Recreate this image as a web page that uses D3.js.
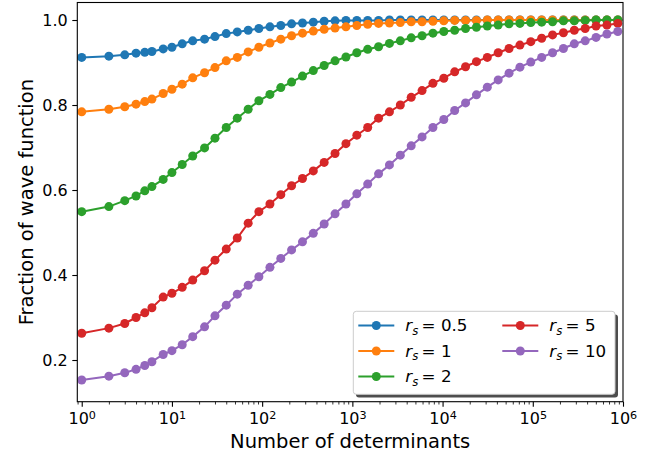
<!DOCTYPE html>
<html>
<head>
<meta charset="utf-8">
<script src="https://cdn.jsdelivr.net/npm/d3@7"></script>
<style>
  body { margin: 0; background: #fff; }
  text { font-family: "DejaVu Sans", sans-serif; }
</style>
</head>
<body>
<svg width="660" height="460"></svg>
<script>
// number of determinants (x positions of the markers)
const nDet = [1, 2, 3, 4, 5, 6, 8, 10, 13, 17, 23, 30, 40, 53, 70, 92, 122, 161, 212, 280,
  369, 487, 643, 849, 1121, 1479, 1952, 2577, 3401, 4490, 5925, 7820, 10322, 13624, 17982,
  23734, 31326, 41348, 54574, 72031, 95072, 125484, 165623, 218602, 288528, 380822, 502638,
  663424, 875640];

const rs05 = [0.912, 0.915, 0.918, 0.922, 0.924, 0.926, 0.932, 0.936, 0.944, 0.951, 0.955, 0.961,
  0.968, 0.972, 0.976, 0.980, 0.984, 0.987, 0.991, 0.993, 0.995, 0.997, 0.998, 0.999, 0.999,
  0.999, 0.999, 1.0, 1.0, 1.0, 1.0, 1.0, 1.0, 1.0, 1.0, 1.0, 1.0, 1.0, 1.0, 1.0, 1.0, 1.0,
  1.0, 1.0, 1.0, 1.0, 1.0, 1.0, 1.0];
const rs1 = [0.784, 0.790, 0.796, 0.802, 0.808, 0.814, 0.827, 0.837, 0.849, 0.864, 0.876, 0.888,
  0.904, 0.912, 0.925, 0.936, 0.946, 0.955, 0.963, 0.969, 0.974, 0.978, 0.981, 0.984, 0.987,
  0.990, 0.992, 0.993, 0.994, 0.996, 0.996, 0.997, 0.998, 0.999, 0.999, 0.999, 1.0, 1.0, 1.0,
  1.0, 1.0, 1.0, 1.0, 1.0, 1.0, 1.0, 1.0, 1.0, 1.0];
const rs2 = [0.549, 0.561, 0.575, 0.586, 0.598, 0.608, 0.625, 0.641, 0.660, 0.680, 0.699, 0.722,
  0.747, 0.769, 0.790, 0.810, 0.825, 0.841, 0.854, 0.868, 0.881, 0.893, 0.904, 0.913, 0.923,
  0.931, 0.937, 0.945, 0.951, 0.958, 0.963, 0.969, 0.973, 0.976, 0.980, 0.983, 0.986, 0.988,
  0.991, 0.992, 0.994, 0.995, 0.996, 0.998, 0.998, 0.999, 1.0, 1.0, 1.0];
const rs5 = [0.263, 0.275, 0.286, 0.300, 0.311, 0.323, 0.348, 0.357, 0.371, 0.388, 0.410, 0.435,
  0.461, 0.487, 0.522, 0.549, 0.567, 0.589, 0.610, 0.627, 0.645, 0.665, 0.686, 0.709, 0.729,
  0.747, 0.769, 0.784, 0.800, 0.818, 0.834, 0.851, 0.863, 0.878, 0.890, 0.902, 0.912, 0.923,
  0.933, 0.941, 0.949, 0.957, 0.965, 0.970, 0.976, 0.980, 0.986, 0.988, 0.992];
const rs10 = [0.153, 0.162, 0.170, 0.178, 0.187, 0.196, 0.213, 0.222, 0.236, 0.255, 0.278, 0.304,
  0.329, 0.355, 0.376, 0.396, 0.418, 0.439, 0.459, 0.478, 0.498, 0.520, 0.544, 0.567, 0.591,
  0.614, 0.638, 0.659, 0.682, 0.704, 0.725, 0.747, 0.766, 0.787, 0.805, 0.824, 0.842, 0.859,
  0.875, 0.889, 0.901, 0.912, 0.923, 0.933, 0.944, 0.951, 0.959, 0.967, 0.973];

const seriesNames = ["0.5", "1", "2", "5", "10"];
const seriesValues = [rs05, rs1, rs2, rs5, rs10];
const colors = ["#1f77b4", "#ff7f0e", "#2ca02c", "#d62728", "#9467bd"];
const yTicks = [0.2, 0.4, 0.6, 0.8, 1.0];
const xTicks = [1e0, 1e1, 1e2, 1e3, 1e4, 1e5, 1e6];

const pl = 77.3, pr = 623, pt = 2.5, pb = 401.7;

const svg = d3.select("svg");

const x = d3.scaleLog().domain([Math.pow(10, -0.049), 1e6]).range([pl, pr]);
const y = d3.scaleLinear().domain([0.1019, 1.0412]).range([pb, pt]);

// minor ticks 2..9 per decade
const minor = [];
for (let e = -1; e < 6; e++) {
  for (let m = 2; m < 10; m++) {
    const v = m * Math.pow(10, e);
    if (v >= x.domain()[0] && v <= 1e6) minor.push(v);
  }
}

svg.append("clipPath").attr("id", "clip")
  .append("rect").attr("x", pl).attr("y", pt)
  .attr("width", pr - pl).attr("height", pb - pt);

// data
const plot = svg.append("g").attr("clip-path", "url(#clip)");
const line = d3.line().x((d, i) => x(nDet[i])).y(d => y(d));

seriesValues.forEach((vals, k) => {
  plot.append("path")
    .attr("d", line(vals))
    .attr("fill", "none")
    .attr("stroke", colors[k])
    .attr("stroke-width", 2);
  plot.selectAll(null).data(vals).enter()
    .append("circle")
    .attr("cx", (d, i) => x(nDet[i]))
    .attr("cy", d => y(d))
    .attr("r", 4.5)
    .attr("fill", colors[k]);
});

// axes
const gx = svg.append("g").attr("transform", `translate(0,${pb})`)
  .call(d3.axisBottom(x).tickValues(xTicks).tickSize(5).tickSizeOuter(0));
gx.select(".domain").remove();
gx.selectAll(".tick line").attr("stroke-width", 1.1);
gx.selectAll(".tick text")
  .attr("font-size", 16).attr("font-family", "DejaVu Sans").attr("fill", "#000")
  .attr("y", 22.8).attr("dy", null)
  .each(function (d) {
    const t = d3.select(this).text(null);
    t.append("tspan").text("10");
    t.append("tspan").attr("dy", "-0.45em").attr("font-size", "0.7em")
      .text(Math.round(Math.log10(d)));
  });

const gxm = svg.append("g").attr("transform", `translate(0,${pb})`)
  .call(d3.axisBottom(x).tickValues(minor).tickSize(2.8).tickSizeOuter(0).tickFormat(""));
gxm.select(".domain").remove();
gxm.selectAll(".tick line").attr("stroke-width", 0.8);

const gy = svg.append("g").attr("transform", `translate(${pl},0)`)
  .call(d3.axisLeft(y).tickValues(yTicks).tickSize(5).tickSizeOuter(0).tickPadding(4.5)
    .tickFormat(d3.format(".1f")));
gy.select(".domain").remove();
gy.selectAll(".tick line").attr("stroke-width", 1.1);
gy.selectAll(".tick text")
  .attr("font-size", 16).attr("font-family", "DejaVu Sans").attr("fill", "#000");

// frame
svg.append("rect")
  .attr("x", pl).attr("y", pt)
  .attr("width", pr - pl).attr("height", pb - pt)
  .attr("fill", "none").attr("stroke", "#000").attr("stroke-width", 1.1);

// labels
svg.append("text")
  .attr("x", (pl + pr) / 2).attr("y", 448)
  .attr("text-anchor", "middle").attr("font-size", 19.5)
  .text("Number of determinants");

svg.append("text")
  .attr("transform", `translate(33,${(pt + pb) / 2}) rotate(-90)`)
  .attr("text-anchor", "middle").attr("font-size", 19.5)
  .text("Fraction of wave function");

// legend
const lg = svg.append("g");
lg.append("rect")
  .attr("x", 356).attr("y", 314.5).attr("width", 262).attr("height", 83)
  .attr("rx", 3).attr("fill", "#4d4d4d");
lg.append("rect")
  .attr("x", 353.3).attr("y", 311.3).attr("width", 261.7).attr("height", 83)
  .attr("rx", 3).attr("fill", "#fff").attr("stroke", "#cccccc").attr("stroke-width", 1);

const rowY = [325.5, 351, 376.5];
seriesNames.forEach((name, k) => {
  const col = k < 3 ? 0 : 1;
  const row = k < 3 ? k : k - 3;
  const x0 = col === 0 ? 358.3 : 502.3;
  const yy = rowY[row];
  lg.append("line")
    .attr("x1", x0).attr("x2", x0 + 36).attr("y1", yy).attr("y2", yy)
    .attr("stroke", colors[k]).attr("stroke-width", 2);
  lg.append("circle").attr("cx", x0 + 18).attr("cy", yy).attr("r", 4.5).attr("fill", colors[k]);
  const t = lg.append("text").attr("x", x0 + 47).attr("y", yy + 5.7).attr("font-size", 16.7);
  t.append("tspan").attr("font-style", "italic").text("r");
  t.append("tspan").attr("font-style", "italic").attr("font-size", "0.7em").attr("dy", "0.3em").text("s");
  t.append("tspan").attr("dy", "-0.21em").text("\u2009= " + name);
});
</script>
</body>
</html>
